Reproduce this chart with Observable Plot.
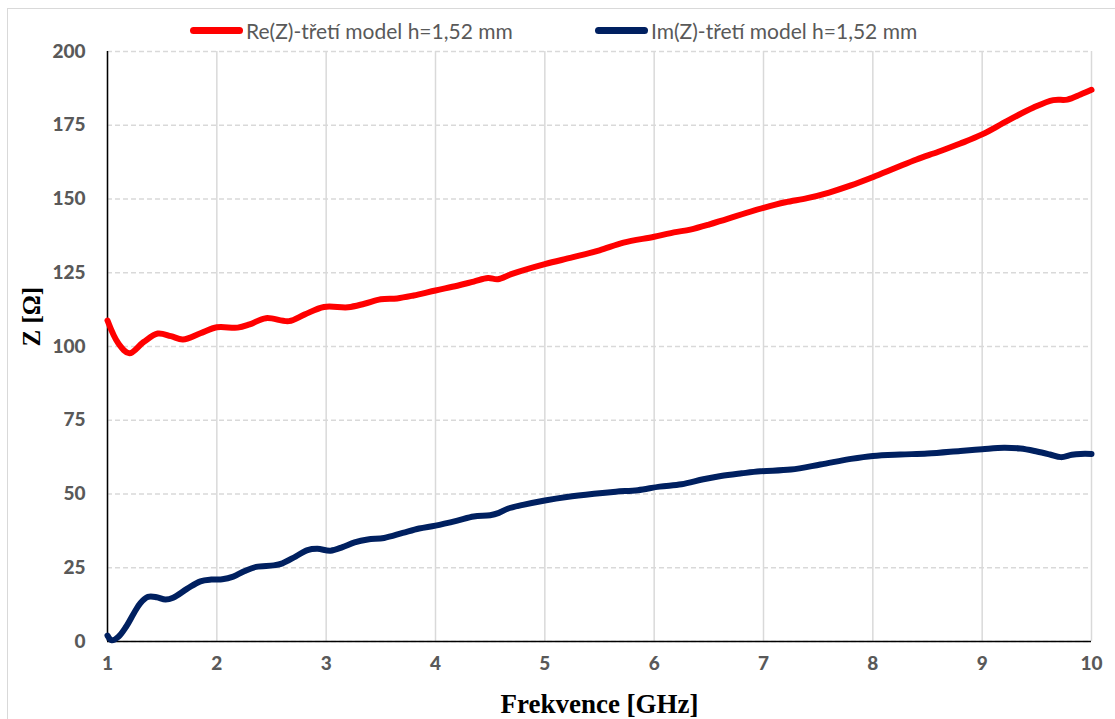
<!DOCTYPE html>
<html>
<head>
<meta charset="utf-8">
<script src="https://cdn.jsdelivr.net/npm/d3@7"></script>
<script src="https://cdn.jsdelivr.net/npm/@observablehq/plot@0.6"></script>
<style>
  html, body { margin: 0; padding: 0; background: #fff; overflow: hidden; }
  #wrap { position: relative; width: 1115px; height: 719px; }
  #border { position: absolute; left: 7px; top: 8px; width: 1200px; height: 800px; border: 1.5px solid #d9d9d9; box-sizing: border-box; }
  #chart { position: absolute; left: 0; top: 0; }
  .leg { position: absolute; top: 17px; height: 26px; display: flex; align-items: center; font-family: Lato, sans-serif; font-size: 21px; color: #595959; white-space: nowrap; }
  .sw { width: 53px; height: 7px; border-radius: 4px; margin-right: 3px; }
</style>
</head>
<body>
<div id="wrap">
  <div id="border"></div>
  <div id="chart"></div>
  <div class="leg" style="left:190px"><div class="sw" style="background:#ff0000"></div><span id="l1"></span></div>
  <div class="leg" style="left:595px"><div class="sw" style="background:#002060"></div><span id="l2"></span></div>
</div>
<script>
const seriesNames = ["Re(Z)-třetí model h=1,52 mm", "Im(Z)-třetí model h=1,52 mm"];
const seriesColors = ["#ff0000", "#002060"];
const xTicks = [1, 2, 3, 4, 5, 6, 7, 8, 9, 10];
const yTicks = [0, 25, 50, 75, 100, 125, 150, 175, 200];

const freqRe = [1.0, 1.1, 1.2, 1.33, 1.46, 1.58, 1.69, 1.85, 2.0, 2.19, 2.3, 2.45, 2.66, 2.8, 2.98, 3.2, 3.35, 3.5, 3.65, 3.8, 4.0, 4.2, 4.35, 4.48, 4.57, 4.7, 5.0, 5.25, 5.5, 5.72, 6.0, 6.18, 6.33, 6.5, 6.67, 7.0, 7.2, 7.4, 7.6, 7.8, 8.0, 8.2, 8.4, 8.6, 8.8, 9.0, 9.23, 9.47, 9.65, 9.78, 9.9, 10.0];
const re = [108.8, 101, 97.7, 101.5, 104.4, 103.5, 102.4, 104.5, 106.5, 106.4, 107.5, 109.6, 108.6, 110.8, 113.4, 113.3, 114.5, 116, 116.3, 117.3, 119, 120.6, 122, 123.2, 122.8, 124.6, 127.9, 130.2, 132.6, 135.2, 137.2, 138.7, 139.6, 141.3, 143.3, 147, 148.9, 150.3, 152.2, 154.6, 157.4, 160.4, 163.4, 166, 168.8, 171.9, 176.5, 181, 183.5, 183.7, 185.4, 187];

const freqIm = [1.0, 1.04, 1.1, 1.17, 1.24, 1.3, 1.37, 1.45, 1.53, 1.6, 1.73, 1.85, 1.95, 2.05, 2.15, 2.25, 2.36, 2.52, 2.6, 2.72, 2.83, 2.92, 3.04, 3.15, 3.26, 3.38, 3.53, 3.7, 3.85, 4.0, 4.2, 4.35, 4.5, 4.58, 4.66, 4.8, 5.0, 5.2, 5.45, 5.65, 5.85, 6.05, 6.25, 6.45, 6.61, 6.8, 6.97, 7.25, 7.52, 7.8, 8.0, 8.25, 8.5, 8.8, 9.0, 9.2, 9.35, 9.5, 9.62, 9.72, 9.82, 9.9, 10.0];
const im = [2.0, 0.4, 1.6, 5, 9.5, 13, 15.1, 15, 14.2, 14.8, 17.9, 20.4, 21, 21.1, 22, 23.8, 25.3, 25.8, 26.5, 28.8, 31, 31.4, 30.8, 32, 33.6, 34.6, 35.1, 36.8, 38.3, 39.3, 41, 42.4, 42.8, 43.6, 45, 46.3, 47.8, 49, 50.1, 50.8, 51.3, 52.5, 53.3, 55, 56.1, 57, 57.7, 58.3, 60, 61.9, 62.9, 63.4, 63.7, 64.6, 65.2, 65.7, 65.4, 64.4, 63.4, 62.5, 63.3, 63.6, 63.6];

document.getElementById("l1").textContent = seriesNames[0];
document.getElementById("l2").textContent = seriesNames[1];

const reData = freqRe.map((f, i) => ({f, v: re[i]}));
const imData = freqIm.map((f, i) => ({f, v: im[i]}));

const chart = Plot.plot({
  width: 1115,
  height: 719,
  marginLeft: 107,
  marginRight: 24,
  marginTop: 51,
  marginBottom: 78,
  style: {background: "transparent", fontFamily: "Lato, sans-serif"},
  x: {domain: [1, 10]},
  y: {domain: [0, 200]},
  marks: [
    Plot.gridX(xTicks, {stroke: "#d9d9d9", strokeOpacity: 1, strokeWidth: 1.5}),
    Plot.gridY(yTicks, {stroke: "#d9d9d9", strokeOpacity: 1, strokeWidth: 1.5, strokeDasharray: "5,3"}),
    Plot.ruleX([1], {stroke: "#000", strokeWidth: 1.5}),
    Plot.ruleY([0], {stroke: "#000", strokeWidth: 1.5}),
    Plot.axisX(xTicks, {tickSize: 0, tickPadding: 15, fontSize: 19, fontWeight: 900, fill: "#595959", label: null}),
    Plot.axisY(yTicks, {tickSize: 0, tickPadding: 22, fontSize: 19, fontWeight: 900, fill: "#595959", label: null}),
    Plot.line(reData, {x: "f", y: "v", stroke: seriesColors[0], strokeWidth: 6, curve: "catmull-rom", strokeLinecap: "round", strokeLinejoin: "round"}),
    Plot.line(imData, {x: "f", y: "v", stroke: seriesColors[1], strokeWidth: 6, curve: "catmull-rom", strokeLinecap: "round", strokeLinejoin: "round"}),
    Plot.text(["Frekvence [GHz]"], {frameAnchor: "bottom", dy: 63, fontFamily: "'Liberation Serif', serif", fontWeight: "bold", fontSize: 27, fill: "#000", lineAnchor: "middle"}),
    Plot.text(["Z [Ω]"], {frameAnchor: "left", dx: -76, rotate: -90, fontFamily: "'Liberation Serif', serif", fontWeight: "bold", fontSize: 25, fill: "#000", lineAnchor: "middle"})
  ]
});
document.getElementById("chart").appendChild(chart);
</script>
</body>
</html>
